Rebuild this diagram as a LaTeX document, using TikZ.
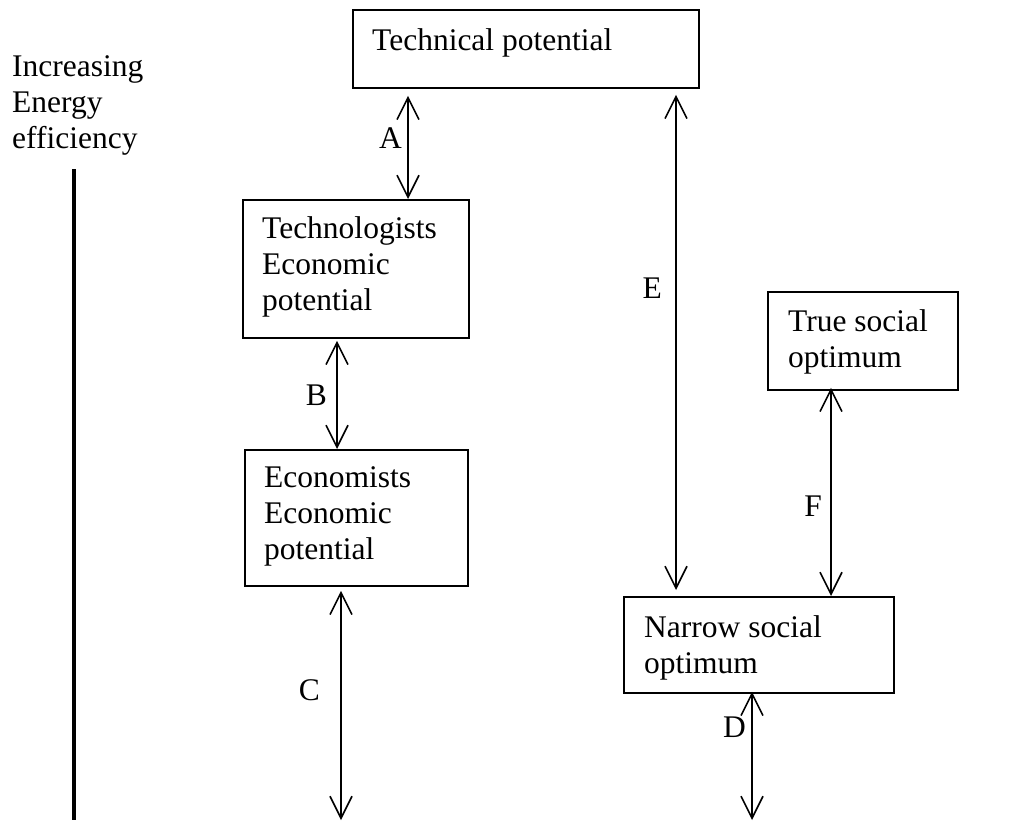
\documentclass[tikz,border=0pt]{standalone}
\usepackage{fontspec}
\setmainfont{Liberation Serif}
\usetikzlibrary{arrows.meta}
\newcommand\dfont{\fontsize{31.5}{36}\selectfont}
\begin{document}
\begin{tikzpicture}[x=1pt,y=-1pt,
  box/.style={draw,line width=1.8pt,anchor=north west,inner sep=0pt},
  txt/.style={anchor=north west,inner sep=0pt,align=left,font=\dfont},
  lab/.style={anchor=base east,inner sep=0pt,font=\dfont},
  >={Straight Barb[length=22pt,width=22pt]},
  conn/.style={line width=1.6pt,<->},
  bar/.style={line width=4pt}]
\useasboundingbox (0,0) rectangle (1022,822);
% boxes
\node[box,minimum width=346pt,minimum height=78pt] (tech) at (352,9) {};
\node[box,minimum width=226pt,minimum height=138pt] (techno) at (242,199) {};
\node[box,minimum width=223pt,minimum height=136pt] (econ) at (244,449) {};
\node[box,minimum width=190pt,minimum height=98pt] (true) at (767,291) {};
\node[box,minimum width=270pt,minimum height=96pt] (narrow) at (623,596) {};
% texts
\node[txt] (ttech) at (372,28.5) {Technical potential};
\node[txt] (ttechno) at (262,216.5) {Technologists\\Economic\\potential};
\node[txt] (tecon) at (264,466.5) {Economists\\Economic\\potential};
\node[txt] (ttrue) at (788,309.5) {True social\\optimum};
\node[txt] (tnarrow) at (644,615.5) {Narrow social\\optimum};
\node[txt] (tinc) at (12,55.5) {Increasing\\Energy\\efficiency};
% vertical bar
\coordinate (bartop) at (74,169);
\coordinate (barbot) at (74,820);
\draw[bar] (bartop) -- (barbot);
% free ends
\coordinate (cend) at (341,820);
\coordinate (dend) at (752,820);
% connectors
\draw[conn] ([xshift=56pt,yshift=-7pt]tech.south west) -- ([xshift=166pt]techno.north west);
\draw[conn] ([xshift=324pt,yshift=-6pt]tech.south west) -- ([xshift=53pt,yshift=6pt]narrow.north west);
\draw[conn] ([xshift=95pt,yshift=-2pt]techno.south west) -- ([xshift=93pt]econ.north west);
\draw[conn] ([xshift=64pt,yshift=3pt]true.south west) -- ([xshift=208pt]narrow.north west);
\draw[conn] ([xshift=97pt,yshift=-4pt]econ.south west) -- (cend);
\draw[conn] ([xshift=129pt,yshift=2pt]narrow.south west) -- (dend);
% labels
\node[lab] (la) at (402,148) {A};
\node[lab] (lb) at (327,405) {B};
\node[lab] (le) at (662,298) {E};
\node[lab] (lf) at (822,516) {F};
\node[lab] (lc) at (320,700) {C};
\node[lab] (ld) at (746,737) {D};
\end{tikzpicture}
\end{document}
